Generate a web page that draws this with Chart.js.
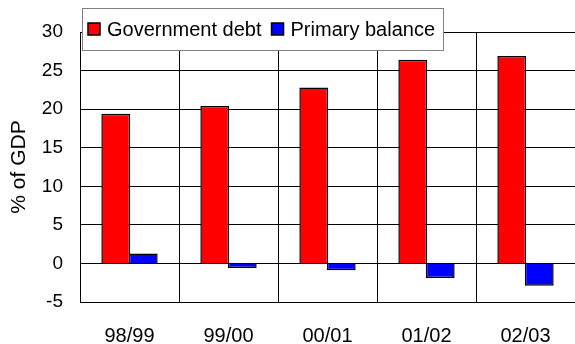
<!DOCTYPE html>
<html>
<head>
<meta charset="utf-8">
<script src="https://cdn.jsdelivr.net/npm/chart.js@4"></script>
<style>
  html, body { margin: 0; padding: 0; background: #fff; }
  #wrap { width: 575px; height: 344px; }
</style>
</head>
<body>
<div id="wrap"><canvas id="debtChart"></canvas></div>
<script>
const years = ['98/99', '99/00', '00/01', '01/02', '02/03'];
const govDebt = [19.4, 20.4, 22.8, 26.4, 26.9];
const primaryBalance = [1.3, -0.6, -0.9, -1.9, -2.9];
const yTicks = [-5, 0, 5, 10, 15, 20, 25, 30];

Chart.defaults.font.family = '"Liberation Sans", Arial, sans-serif';
Chart.defaults.color = '#000';

// legend box sits over the top of the plot, like the original
const boxLegend = {
    id: 'boxLegend',
    afterDraw(chart) {
        const c = chart.ctx;
        const x0 = 82, y0 = 8, h = 42;
        c.save();
        c.font = '20px "Liberation Sans", Arial, sans-serif';
        const items = chart.data.datasets.map(d => ({ text: d.label, color: d.backgroundColor }));
        let w = 6;
        items.forEach(it => { w += 19 + c.measureText(it.text).width + 10; });
        w -= 2;
        c.fillStyle = '#fff';
        c.fillRect(x0, y0, w, h);
        c.strokeStyle = '#808080';
        c.lineWidth = 1;
        c.strokeRect(x0 + 0.5, y0 + 0.5, w, h);
        let x = x0 + 6;
        const mid = y0 + h / 2;
        items.forEach(it => {
            c.fillStyle = it.color;
            c.fillRect(x, mid - 6, 12, 12);
            c.strokeStyle = '#000';
            c.lineWidth = 1.5;
            c.strokeRect(x, mid - 6, 12, 12);
            c.fillStyle = '#000';
            c.textBaseline = 'middle';
            c.fillText(it.text, x + 19, mid + 1);
            x += 19 + c.measureText(it.text).width + 10;
        });
        c.restore();
    }
};

new Chart(document.getElementById('debtChart'), {
    type: 'bar',
    data: {
        labels: years,
        datasets: [{
            label: 'Government debt',
            data: govDebt,
            backgroundColor: '#ff0000',
            borderColor: '#000',
            borderWidth: 1.5
        }, {
            label: 'Primary balance',
            data: primaryBalance,
            backgroundColor: '#0000ff',
            borderColor: '#000',
            borderWidth: 1.5
        }]
    },
    options: {
        responsive: true,
        maintainAspectRatio: false,
        animation: false,
        categoryPercentage: 0.555,
        barPercentage: 1.05,
        layout: { padding: { top: 32, left: 0, right: 0, bottom: 0 } },
        plugins: {
            legend: { display: false },
            tooltip: { enabled: false }
        },
        scales: {
            y: {
                min: -5,
                max: 30,
                afterBuildTicks: axis => { axis.ticks = yTicks.map(v => ({ value: v })); },
                afterFit: axis => { axis.width = 80; },
                grid: { color: '#000', lineWidth: 1, drawTicks: false },
                border: { color: '#000', width: 1 },
                ticks: { padding: 17, font: { size: 19 } },
                title: {
                    display: true,
                    text: '% of GDP',
                    font: { size: 21 },
                    padding: { top: 7, bottom: 0 }
                }
            },
            x: {
                afterFit: axis => { axis.height = 42; },
                grid: { color: '#000', lineWidth: 1, drawTicks: false, offset: true },
                border: { color: '#000', width: 1 },
                ticks: { padding: 22, font: { size: 20 } }
            }
        }
    },
    plugins: [boxLegend]
});
</script>
</body>
</html>
